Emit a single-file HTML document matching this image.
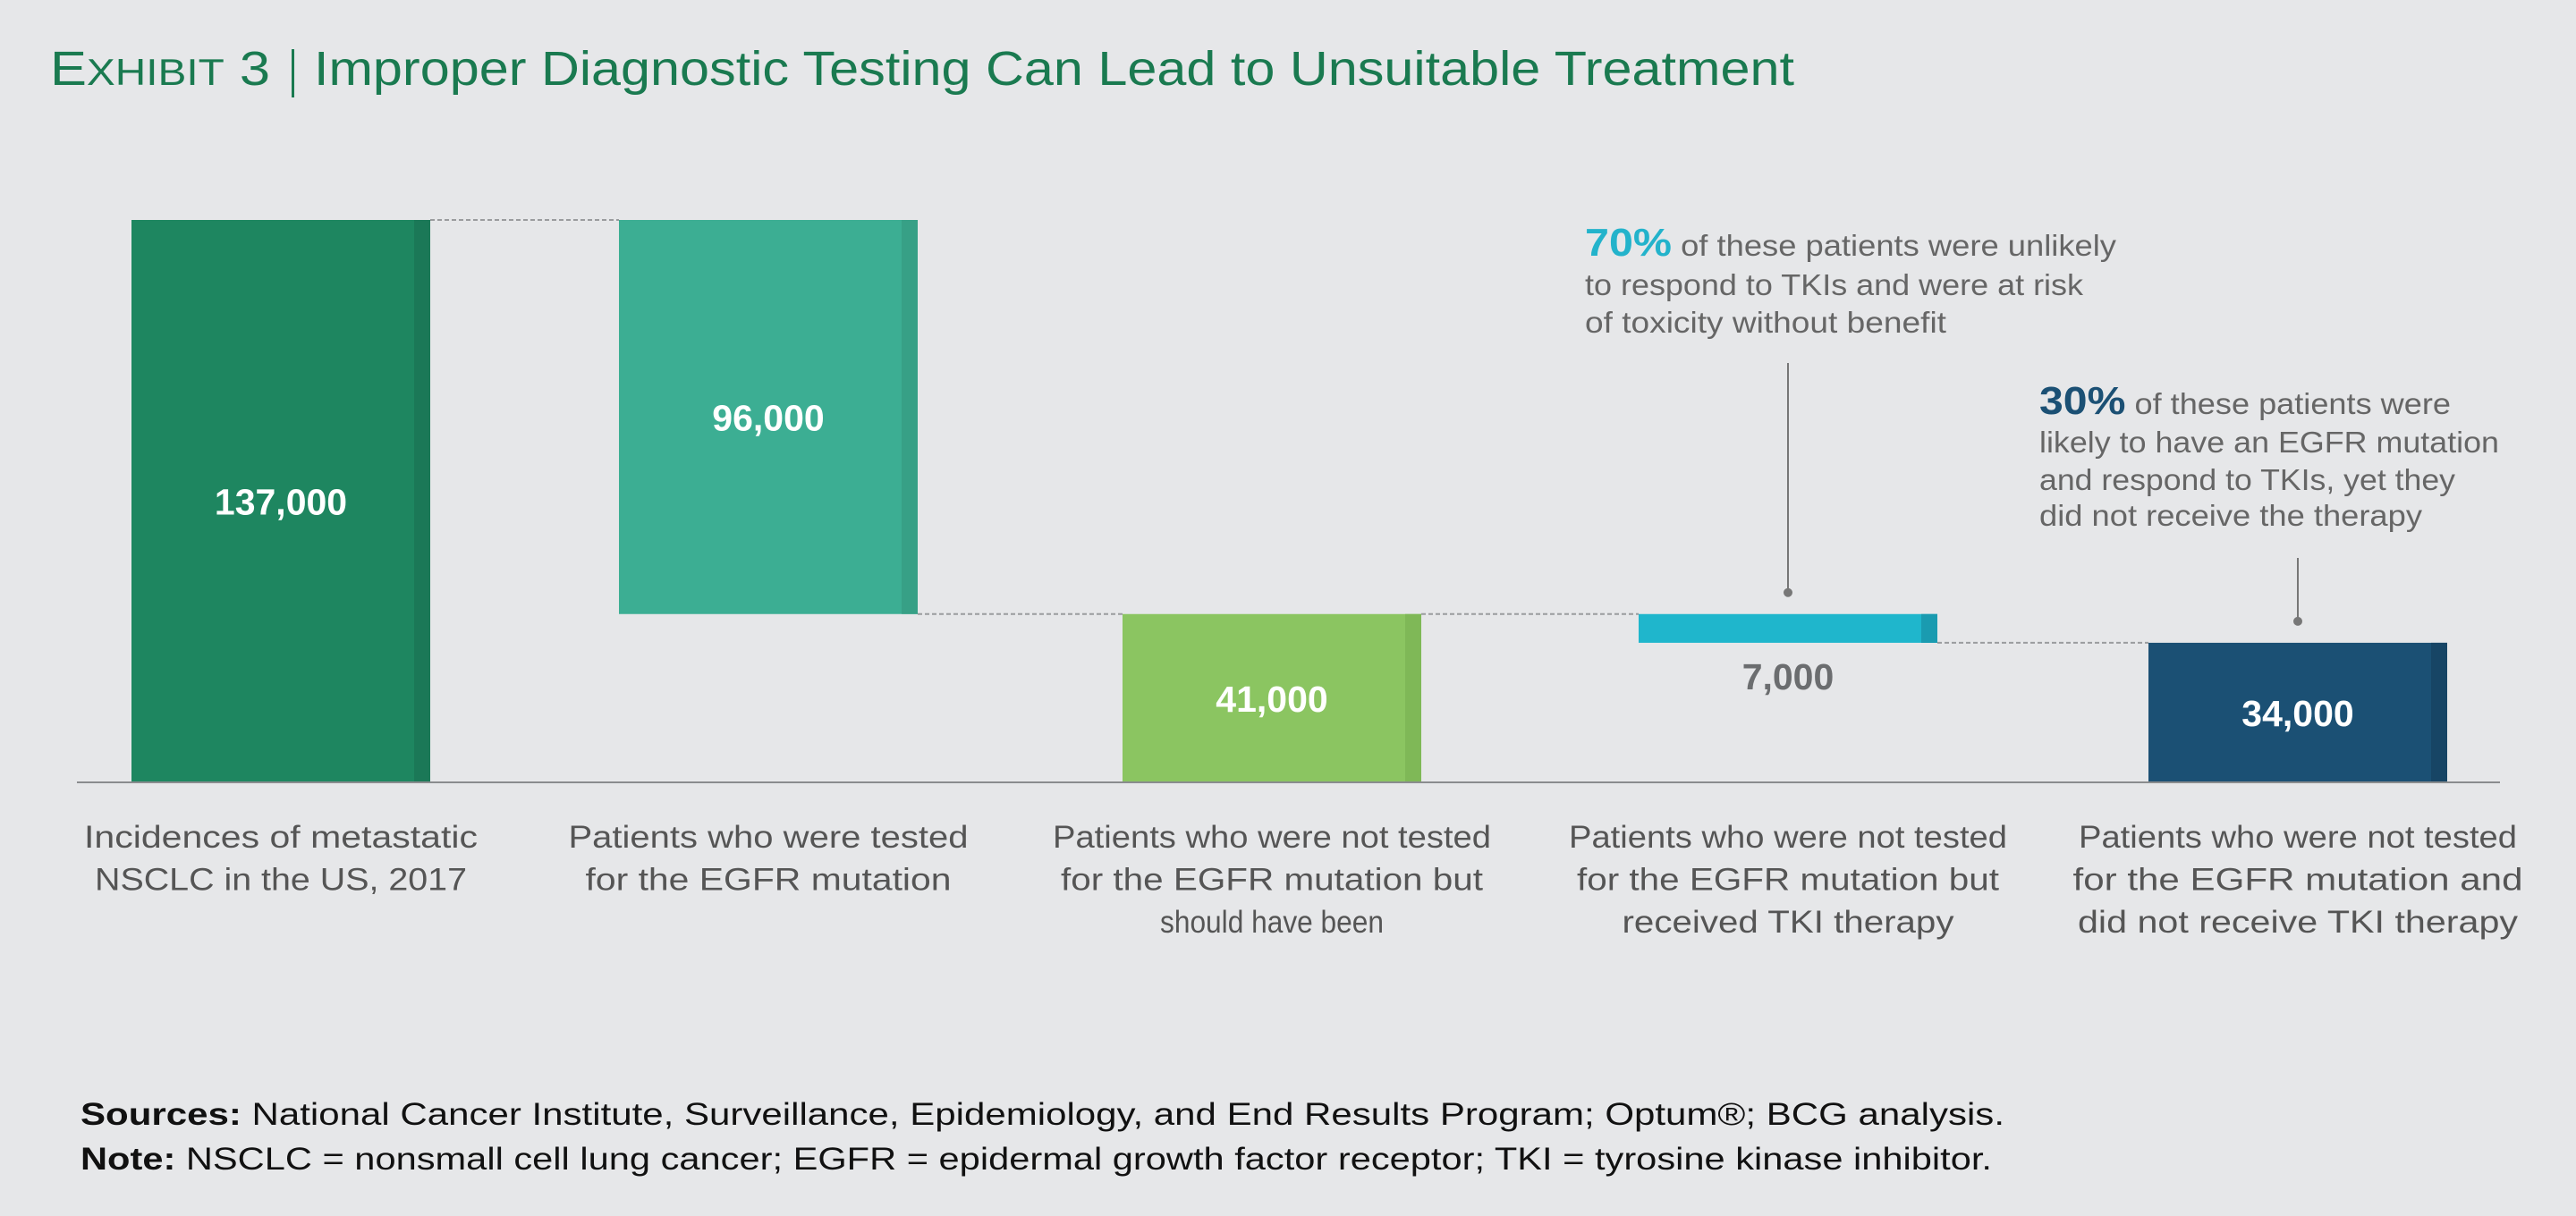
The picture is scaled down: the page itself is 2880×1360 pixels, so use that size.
<!DOCTYPE html>
<html><head><meta charset="utf-8">
<style>
html,body{margin:0;padding:0;background:#e6e7e9;}
svg{display:block;font-family:"Liberation Sans",sans-serif;}
</style></head>
<body>
<svg id="chart" width="2880" height="1360" viewBox="0 0 2880 1360" xmlns="http://www.w3.org/2000/svg">
<rect width="2880" height="1360" fill="#e6e7e9"/>
<g fill="#1a7a50">
  <text x="56" y="95" font-size="54" textLength="246" lengthAdjust="spacingAndGlyphs">E<tspan font-size="42">XHIBIT</tspan> 3</text>
  <rect x="326" y="55" width="3" height="54" fill="#1a7a50"/>
  <text x="351" y="95" font-size="54" textLength="1655" lengthAdjust="spacingAndGlyphs">Improper Diagnostic Testing Can Lead to Unsuitable Treatment</text>
</g>
<g id="bars"></g>
<line x1="86" y1="875" x2="2795" y2="875" stroke="#8a8c8e" stroke-width="2"/>
<g id="labels"></g>

<g fill="#666" font-size="33">
  <text x="1772" y="286" textLength="594" lengthAdjust="spacingAndGlyphs"><tspan fill="#23b3cb" font-weight="bold" font-size="44">70%</tspan> of these patients were unlikely</text>
  <text x="1772" y="330" textLength="557" lengthAdjust="spacingAndGlyphs">to respond to TKIs and were at risk</text>
  <text x="1772" y="372" textLength="404" lengthAdjust="spacingAndGlyphs">of toxicity without benefit</text>
</g>
<g fill="#666" font-size="33">
  <text x="2280" y="463" textLength="460" lengthAdjust="spacingAndGlyphs"><tspan fill="#1b5074" font-weight="bold" font-size="44">30%</tspan> of these patients were</text>
  <text x="2280" y="506" textLength="514" lengthAdjust="spacingAndGlyphs">likely to have an EGFR mutation</text>
  <text x="2280" y="548" textLength="465" lengthAdjust="spacingAndGlyphs">and respond to TKIs, yet they</text>
  <text x="2280" y="588" textLength="428" lengthAdjust="spacingAndGlyphs">did not receive the therapy</text>
</g>
<g fill="#111" font-size="35">
  <text x="90" y="1258" textLength="2151" lengthAdjust="spacingAndGlyphs"><tspan font-weight="bold">Sources:</tspan> National Cancer Institute, Surveillance, Epidemiology, and End Results Program; Optum®; BCG analysis.</text>
  <text x="90" y="1308" textLength="2137" lengthAdjust="spacingAndGlyphs"><tspan font-weight="bold">Note:</tspan> NSCLC = nonsmall cell lung cancer; EGFR = epidermal growth factor receptor; TKI = tyrosine kinase inhibitor.</text>
</g>
</svg>
<script>
const categories = [
  ["Incidences of metastatic","NSCLC in the US, 2017"],
  ["Patients who were tested","for the EGFR mutation"],
  ["Patients who were not tested","for the EGFR mutation but","should have been"],
  ["Patients who were not tested","for the EGFR mutation but","received TKI therapy"],
  ["Patients who were not tested","for the EGFR mutation and","did not receive TKI therapy"]
];
const values = [137000, 96000, 41000, 7000, 34000];
const valueLabels = ["137,000","96,000","41,000","7,000","34,000"];
const catLineWidths = [[440,416],[447,409],[490,472,250],[490,472,371],[490,503,492]];

const NS = "http://www.w3.org/2000/svg";
const baseY = 875, topY = 246, vmax = 137000;
const barW = 334;
const slotLefts = [147, 692, 1255, 1832, 2402];
const colors = ["#1e8660","#3cae93","#8bc561","#1fb6cc","#1b5074"];
const strips = ["#1b7857","#37a086","#7fb857","#1a9bb0","#174565"];
function yScale(v){ return baseY - (v / vmax) * (baseY - topY); }
function xPos(i){ return slotLefts[i]; }

const barsG = document.getElementById('bars');
const labelsG = document.getElementById('labels');
function mk(tag, attrs){ const e = document.createElementNS(NS, tag); for (const k in attrs) e.setAttribute(k, attrs[k]); return e; }

const spans = [];
spans.push([0, values[0]]);
spans.push([values[0] - values[1], values[0]]);
spans.push([0, values[2]]);
spans.push([values[2] - values[3], values[2]]);
spans.push([0, values[4]]);

for (let i = 0; i < values.length; i++) {
  const [lo, hi] = spans[i];
  const x = xPos(i), y1 = yScale(hi), y2 = yScale(lo);
  const r = mk('rect', {x: x, y: y1, width: barW, height: y2 - y1, fill: colors[i]});
  
  
  barsG.appendChild(r);
  const s = mk('rect', {x: x + barW - 18, y: y1, width: 18, height: y2 - y1, fill: strips[i]});
  
  
  barsG.appendChild(s);
  if (i < values.length - 1) {
    const cy = (i === 0) ? y1 : (i === 1 ? y2 : (i === 2 ? y1 : y2));
    const c = mk('line', {x1: x + barW, y1: cy, x2: xPos(i+1), y2: cy, stroke: '#9a9c9e', 'stroke-width': 2, 'stroke-dasharray': '5,3'});
    
    
    barsG.appendChild(c);
  }
  const small = (y2 - y1) < 60;
  const ly = small ? y2 + 52 : (y1 + y2) / 2 + 15;
  const t = mk('text', {x: x + barW / 2, y: ly, 'text-anchor': 'middle', 'font-size': 41, 'font-weight': 'bold', fill: small ? '#6b6d6f' : '#ffffff'});
  t.textContent = valueLabels[i];
  
  
  labelsG.appendChild(t);
  categories[i].forEach((line, j) => {
    const ct = mk('text', {x: x + barW / 2, y: 948 + j * 47.5, 'text-anchor': 'middle', 'font-size': 35, fill: '#555', textLength: catLineWidths[i][j], lengthAdjust: 'spacingAndGlyphs'});
    ct.textContent = line;
    
    
    labelsG.appendChild(ct);
  });
}
function leader(i, yTopLine, name){
  const cx = xPos(i) + barW / 2;
  const yb = yScale(spans[i][1]) - 24;
  const l = mk('line', {x1: cx, y1: yTopLine, x2: cx, y2: yb, stroke: '#777', 'stroke-width': 2});
  
  
  labelsG.appendChild(l);
  const d = mk('circle', {cx: cx, cy: yb, r: 5, fill: '#777'});
  
  
  labelsG.appendChild(d);
}
leader(3, 406, 'leader-70-percent');
leader(4, 624, 'leader-30-percent');
</script>
</body></html>
